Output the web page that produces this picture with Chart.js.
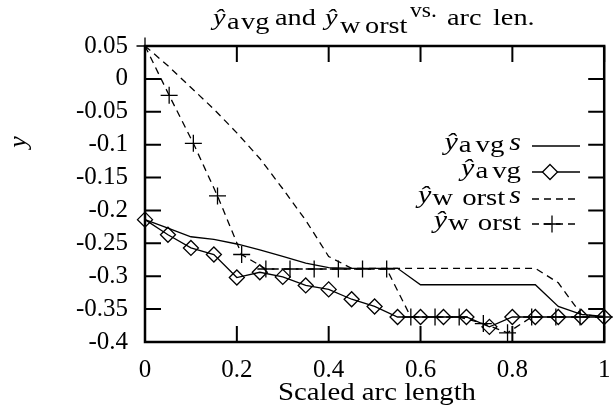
<!DOCTYPE html>
<html lang="en">

<head>
  <meta charset="UTF-8">
  <script src="https://cdn.jsdelivr.net/npm/chart.js@4.4.1/dist/chart.umd.min.js"></script>
  <style>
    body {
      margin: 0;
      background: #fff;
    }
  </style>
  <title>y avg and y worst vs. arc len.</title>
</head>

<body>
  <canvas id="chart" width="614" height="411"></canvas>

  <script>
    // arc length positions (21 samples and 20 samples)
    const arcLen21 = [0, 0.05, 0.1, 0.15, 0.2, 0.25, 0.3, 0.35, 0.4, 0.45, 0.5,
      0.55, 0.6, 0.65, 0.7, 0.75, 0.8, 0.85, 0.9, 0.95, 1]
    const arcLen20 = [0, 0.0526, 0.1053, 0.1579, 0.2105, 0.2632, 0.3158, 0.3684, 0.4211, 0.4737,
      0.5263, 0.5789, 0.6316, 0.6842, 0.7368, 0.7895, 0.8421, 0.8947, 0.9474, 1]

    // series values
    const yAvgSmooth = [-0.214, -0.227, -0.240, -0.244, -0.251, -0.260, -0.270, -0.280, -0.287, -0.288, -0.288,
      -0.288, -0.313, -0.313, -0.313, -0.313, -0.313, -0.313, -0.346, -0.358, -0.361]
    const yAvg = [-0.214, -0.237, -0.257, -0.267, -0.302, -0.294, -0.301, -0.314, -0.320, -0.335, -0.346,
      -0.362, -0.362, -0.362, -0.362, -0.377, -0.362, -0.362, -0.362, -0.362, -0.362]
    const yWorstSmooth = [0.05, 0.020, -0.013, -0.046, -0.082, -0.121, -0.167, -0.215, -0.270, -0.288, -0.288,
      -0.288, -0.288, -0.288, -0.288, -0.288, -0.288, -0.288, -0.310, -0.358, -0.362]
    const yWorst = [0.05, -0.025, -0.098, -0.178, -0.267, -0.289, -0.289, -0.289, -0.289, -0.289,
      -0.289, -0.362, -0.362, -0.362, -0.372, -0.386, -0.362, -0.362, -0.362, -0.362]

    // tick values
    const xTicks = [0, 0.2, 0.4, 0.6, 0.8, 1]
    const yTicks = [0.05, 0, -0.05, -0.1, -0.15, -0.2, -0.25, -0.3, -0.35, -0.4]

    const SERIF = '"Liberation Serif", "Times New Roman", serif'
    const DASH = [7, 5]

    function pairs(xs, ys) {
      return ys.map(function (y, i) { return { x: xs[i], y: y } })
    }

    function fmt(v) {
      return String(+v.toFixed(2))
    }

    // draw a run of text pieces, stretched horizontally by sx
    function drawPieces(ctx, pieces, x, y, sx) {
      pieces.forEach(function (p) {
        ctx.save()
        ctx.font = p.font
        ctx.textAlign = 'left'
        ctx.textBaseline = 'alphabetic'
        ctx.translate(x + p.at, y + (p.dy || 0))
        ctx.scale(sx, 1)
        ctx.fillText(p.t, 0, 0)
        ctx.restore()
      })
    }

    // pieces placed one after another, right aligned at xr
    function drawRight(ctx, pieces, xr, y, sx) {
      let w = 0
      const placed = pieces.map(function (p) {
        ctx.font = p.font
        w += (p.gap || 0)
        const q = Object.assign({}, p, { at: w })
        w += ctx.measureText(p.t).width * sx
        return q
      })
      drawPieces(ctx, placed, xr - w, y, sx)
    }

    const I25 = 'italic 25px ' + SERIF
    const R24 = '24px ' + SERIF
    const I24 = 'italic 24px ' + SERIF

    const legendRows = [
      { y: 146, pieces: [{ t: 'ŷ', font: I25, dy: -2 }, { t: 'a', font: R24, gap: 1 }, { t: 'vg', font: R24, gap: 4 }, { t: 's', font: I25, gap: 5, dy: -2 }], dash: [], point: null },
      { y: 172, pieces: [{ t: 'ŷ', font: I25, dy: -2 }, { t: 'a', font: R24, gap: 1 }, { t: 'vg', font: R24, gap: 4 }], dash: [], point: 'diamond' },
      { y: 199, pieces: [{ t: 'ŷ', font: I25, dy: -2 }, { t: 'w', font: R24, gap: 1 }, { t: 'orst', font: R24, gap: 9 }, { t: 's', font: I25, gap: 4, dy: -2 }], dash: DASH, point: null },
      { y: 224, pieces: [{ t: 'ŷ', font: I25, dy: -2 }, { t: 'w', font: R24, gap: 1 }, { t: 'orst', font: R24, gap: 9 }], dash: DASH, point: 'plus' }
    ]

    const titlePieces = [
      { t: 'ŷ', font: I24, at: 0 },
      { t: 'a', font: R24, at: 14, dy: 4 },
      { t: 'vg', font: R24, at: 28, dy: 4 },
      { t: 'and', font: R24, at: 62 },
      { t: 'ŷ', font: I24, at: 112 },
      { t: 'w', font: R24, at: 127, dy: 8 },
      { t: 'orst', font: R24, at: 152, dy: 8 },
      { t: 'vs.', font: '20px ' + SERIF, at: 197, dy: -8 },
      { t: 'arc', font: R24, at: 234 },
      { t: 'len.', font: R24, at: 280 }
    ]

    // gnuplot style frame, inward ticks, key and labels
    const frame = {
      id: 'frame',
      afterDraw(chart) {
        const ctx = chart.ctx
        const { left, right, top, bottom } = chart.chartArea
        const xs = chart.scales.x, ys = chart.scales.y
        ctx.save()
        ctx.strokeStyle = '#000'
        ctx.fillStyle = '#000'
        ctx.lineWidth = 2
        ctx.beginPath()
        yTicks.forEach(function (v) {
          const p = ys.getPixelForValue(v)
          ctx.moveTo(left, p); ctx.lineTo(left + 16, p)
          ctx.moveTo(right - 16, p); ctx.lineTo(right, p)
        })
        xTicks.forEach(function (v) {
          const p = xs.getPixelForValue(v)
          ctx.moveTo(p, top); ctx.lineTo(p, top + 16)
          ctx.moveTo(p, bottom - 16); ctx.lineTo(p, bottom)
        })
        ctx.stroke()
        ctx.lineWidth = 2.5
        ctx.strokeRect(left, top, right - left, bottom - top)

        // key
        legendRows.forEach(function (row) {
          drawRight(ctx, row.pieces, 521, row.y + 6, 1.2)
          ctx.lineWidth = 1.3
          ctx.setLineDash(row.dash)
          ctx.beginPath()
          ctx.moveTo(532, row.y); ctx.lineTo(580, row.y)
          ctx.stroke()
          ctx.setLineDash([])
          if (row.point === 'diamond') {
            ctx.beginPath()
            ctx.moveTo(550, row.y - 7.5); ctx.lineTo(557.5, row.y)
            ctx.lineTo(550, row.y + 7.5); ctx.lineTo(542.5, row.y); ctx.closePath()
            ctx.fillStyle = '#fff'
            ctx.fill()
            ctx.stroke()
            ctx.fillStyle = '#000'
          } else if (row.point === 'plus') {
            ctx.beginPath()
            ctx.moveTo(543.5, row.y); ctx.lineTo(560.5, row.y)
            ctx.moveTo(552, row.y - 8.5); ctx.lineTo(552, row.y + 8.5)
            ctx.stroke()
          }
        })

        // title
        drawPieces(ctx, titlePieces, 213, 25, 1.18)

        // x axis title
        ctx.save()
        ctx.font = '25px ' + SERIF
        const w = ctx.measureText('Scaled arc length').width
        ctx.translate(377, 400)
        ctx.scale(198 / w, 1)
        ctx.textAlign = 'center'
        ctx.fillText('Scaled arc length', 0, 0)
        ctx.restore()

        // y axis title
        ctx.save()
        ctx.font = 'italic 26px ' + SERIF
        ctx.translate(19, 142)
        ctx.rotate(-Math.PI / 2)
        ctx.textAlign = 'center'
        ctx.textBaseline = 'middle'
        ctx.fillText('y', 0, 0)
        ctx.restore()
        ctx.restore()
      }
    }

    const data = {
      datasets: [{
        label: 'ŷavg s',
        data: pairs(arcLen21, yAvgSmooth),
        borderColor: '#000',
        borderWidth: 1.3,
        pointRadius: 0
      }, {
        label: 'ŷavg',
        data: pairs(arcLen21, yAvg),
        borderColor: '#000',
        borderWidth: 1.3,
        pointStyle: 'rectRot',
        pointRadius: 7.5,
        pointBorderWidth: 1.3,
        pointBorderColor: '#000',
        pointBackgroundColor: 'rgba(0,0,0,0)'
      }, {
        label: 'ŷw orst s',
        data: pairs(arcLen21, yWorstSmooth),
        borderColor: '#000',
        borderWidth: 1.3,
        borderDash: DASH,
        pointRadius: 0
      }, {
        label: 'ŷw orst',
        data: pairs(arcLen20, yWorst),
        borderColor: '#000',
        borderWidth: 1.3,
        borderDash: DASH,
        pointStyle: 'cross',
        pointRadius: 8.5,
        pointBorderWidth: 1.3,
        pointBorderColor: '#000'
      }]
    }

    const config = {
      type: 'line',
      data: data,
      options: {
        responsive: false,
        animation: false,
        events: [],
        clip: false,
        layout: { padding: { left: 0, right: 7, top: 46, bottom: 0 } },
        plugins: { legend: { display: false }, title: { display: false }, tooltip: { enabled: false } },
        elements: { line: { tension: 0 } },
        scales: {
          x: {
            type: 'linear',
            min: 0,
            max: 1,
            afterBuildTicks: function (s) { s.ticks = xTicks.map(function (v) { return { value: v } }) },
            afterFit: function (s) { s.height = 69; s.paddingLeft = 0; s.paddingRight = 0 },
            grid: { display: false, drawTicks: false },
            border: { display: false },
            ticks: {
              autoSkip: false,
              maxRotation: 0,
              padding: 13,
              color: '#000',
              font: { family: SERIF, size: 25 },
              callback: fmt
            }
          },
          y: {
            type: 'linear',
            min: -0.4,
            max: 0.05,
            afterBuildTicks: function (s) { s.ticks = yTicks.map(function (v) { return { value: v } }) },
            afterFit: function (s) { s.width = 145; s.paddingTop = 0; s.paddingBottom = 0 },
            grid: { display: false, drawTicks: false },
            border: { display: false },
            ticks: {
              autoSkip: false,
              padding: 17,
              color: '#000',
              font: { family: SERIF, size: 25 },
              callback: fmt
            }
          }
        }
      },
      plugins: [frame]
    }

    const chart = new Chart(document.getElementById('chart'), config)
  </script>
</body>

</html>
